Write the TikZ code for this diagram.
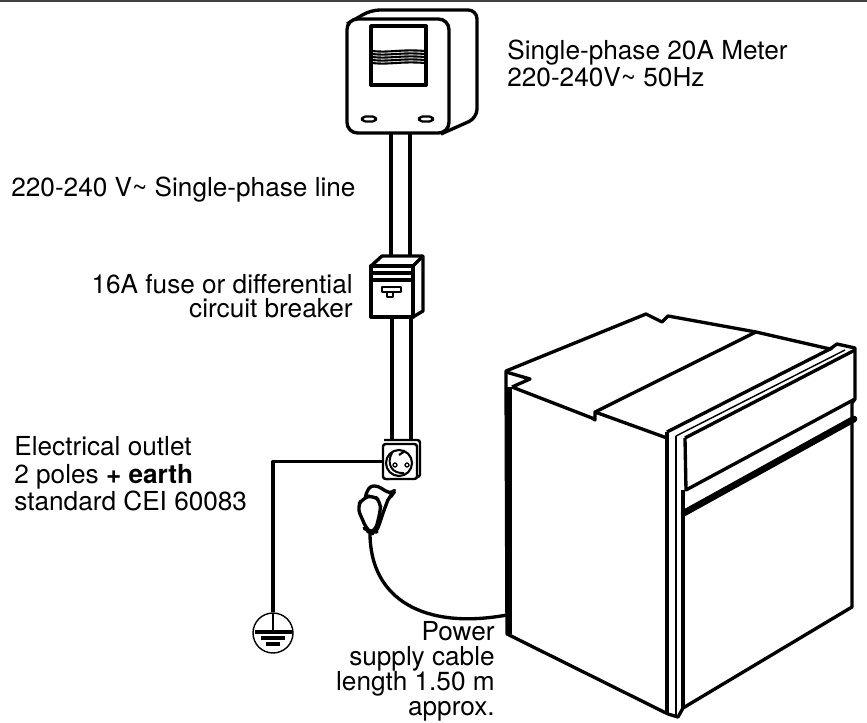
\documentclass[tikz,border=0pt]{standalone}
\usepackage{fontspec}
\setmainfont{TeX Gyre Heros}
\usetikzlibrary{positioning}
\tikzstyle{label} = [inner sep=0pt, font=\fontsize{14.9}{15.6}\selectfont]
\tikzstyle{tightlabel} = [inner sep=0pt, font=\fontsize{14.9}{14.2}\selectfont]
\tikzstyle{line} = [draw, line width=1.9pt, line join=round]
\tikzstyle{thinline} = [draw, line width=0.8pt, line join=round]
\tikzstyle{earthbox} = [circle, draw, line width=0.8pt, fill=white, minimum size=0.8cm, inner sep=0pt]
\tikzstyle{socket} = [rectangle, draw, line width=1.4pt, fill=white, rounded corners=1.5pt, minimum width=0.68cm, minimum height=0.7cm, inner sep=0pt]

\begin{document}
\begin{tikzpicture}[x=0.02cm, y=-0.02cm]
    \useasboundingbox (0,0) rectangle (867,723);
    \draw[line width=1.2pt, black!75] (0,0.5) -- (867,0.5);

    % meter
    \draw[line, rounded corners=5pt] (347,24) -- (371,10) -- (477,10) -- (477,118) -- (441,134);
    \draw[line, fill=white, rounded corners=6pt] (347,19) rectangle (449,133);
    \draw[line, line width=2.2pt] (371,26) rectangle (426,85);
    \foreach \ypos in {51,54,57,60,63} {
        \draw[thinline, line width=1.2pt] (372,\ypos) .. controls (390,\ypos+2) and (400,\ypos-2) .. (425,\ypos);
    }
    \draw[thinline, line width=1.3pt, rounded corners=2pt] (362,116.5) rectangle (376,121.5);
    \draw[thinline, line width=1.3pt, rounded corners=2pt] (419,116.5) rectangle (433,121.5);

    % conduit
    \coordinate (meterL) at (391,133);
    \coordinate (meterR) at (410,133);
    \coordinate (fuseL) at (391,256);
    \coordinate (fuseR) at (410,256);
    \draw[line] (meterL) -- (fuseL);
    \draw[line] (meterR) -- (fuseR);

    % fuse
    \draw[line] (371,266) -- (382,256) -- (423,256) -- (423,311) -- (413,317);
    \draw[line] (413,266) -- (423,256);
    \draw[line] (371,266) rectangle (413,317);
    \draw[line] (371,273) -- (413,273);
    \draw[line] (371,280) -- (413,280);
    \draw[line, line width=1.4pt] (382,287) -- (401,287) -- (401,292) -- (382,292) -- cycle;
    \draw[line, line width=1.4pt] (387,292) -- (387,297) -- (393,297) -- (393,292);

    % outlet
    \draw[line, line width=1.4pt, rounded corners=1.5pt] (384,440) -- (420,440) -- (420,477) -- (386,479);
    \node[socket] (outlet) at (400,461.5) {};
    \draw[line, line width=1.2pt] (399,463) circle [radius=13];
    \draw[thinline, line width=1.1pt] (392,453) .. controls (386,464) and (392,474) .. (404,473);
    \draw[line, line width=1.2pt] (399,455) -- (405,451);
    \draw[thinline] (395,465) circle [radius=2];
    \draw[thinline] (407,465) circle [radius=2];
    \draw[line] (392,317) -- (392,440);
    \draw[line] (411,317) -- (411,440);

    % plug
    \draw[line, fill=white, rounded corners=2pt] (365,496) -- (370,486) -- (378,486) -- (387,492) -- (392,493) -- (395,490) -- (393,495) -- (389,497) -- (383,513) -- (378,528) -- (375,532) -- (370,532) -- cycle;
    \draw[line, fill=white, rounded corners=4pt] (357,507) -- (363,498) -- (373,495) -- (381,502) -- (380,513) -- (375,532) -- (370,532) -- (367,530) -- cycle;
    \draw[thinline] (378,530) -- (388,499);

    % oven
    \draw[line, fill=white] (506,371) -- (646,314) -- (662,322) -- (668,316) -- (756,332) -- (830,349) -- (837,344) -- (855,348) -- (855,399) -- (852,403) -- (852,607) -- (683,708) -- (678,717) -- (668,714) -- (507,634) -- cycle;
    \draw[line] (512,387) -- (592,418) -- (595,420) -- (595,412) -- (667,438);
    \draw[line] (506,372) -- (530,379) -- (512,387);
    \draw[line, line width=3pt] (509.5,387) -- (509.5,634);
    \draw[line] (595,412) -- (756,332);
    \draw[line] (667,432) -- (832,348);
    \draw[thinline] (676,436) -- (845,350);
    \draw[line] (685,438) -- (855,350);
    \draw[line] (667,432) -- (667,714);
    \draw[thinline] (676,436) -- (676,716);
    \draw[line] (685,438) -- (686,490) -- (855,399);
    \draw[line] (683,490) -- (683,708);
    \draw[line, line width=3.8pt, line cap=round] (684,513) -- (854,419);

    % cable
    \coordinate (plugEnd) at (370,533);
    \coordinate (ovenIn) at (507,615);
    \draw[line] (plugEnd) .. controls (370,600) and (425,630) .. (ovenIn);

    % earth
    \node[earthbox] (earth) at (273,633) {};
    \draw[line] (outlet.west) -| (earth.north);
    \draw[thinline, line width=1.4pt] (273,613) -- (273,632);
    \draw[line] (255,632) -- (292,632);
    \draw[line] (261,638) -- (285,638);
    \draw[line] (266,644) -- (280,644);

    % labels
    \node[label, anchor=base west, align=left] (meterText) at (507,87) {Single-phase 20A Meter\\[0.3pt]220-240V\textasciitilde{} 50Hz};
    \node[label, anchor=base west] (lineText) at (11,197) {220-240 V\textasciitilde{} Single-phase line};
    \node[label, anchor=base east, align=right] (fuseText) at (353,318) {16A fuse or differential\\[-1.4pt]circuit breaker};
    \node[label, anchor=base west, align=left] (outletText) at (14,510.5) {Electrical outlet\\2 poles \textbf{+ earth}\\standard CEI 60083};
    \node[tightlabel, anchor=base east, align=right] (cableText) at (495,715) {Power\\supply cable\\length 1.50 m\\approx.};
\end{tikzpicture}
\end{document}
